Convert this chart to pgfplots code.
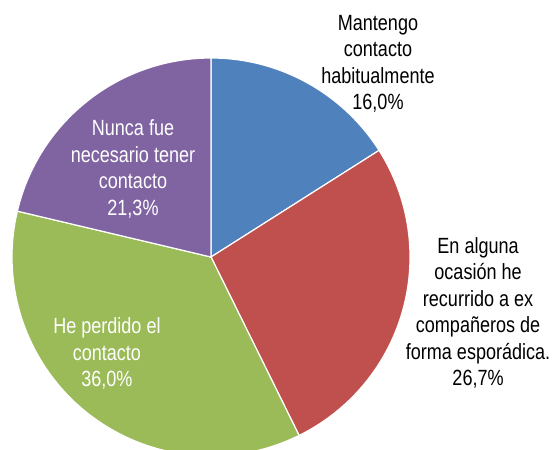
\documentclass[border=0pt]{standalone}
\usepackage{pgfplots}
\pgfplotsset{compat=1.18}
\usepackage{pgfplotstable}
\usepackage{fontspec}
\setmainfont{Liberation Sans}[FakeStretch=0.82]
\definecolor{cblue}{HTML}{4F81BD}
\definecolor{cred}{HTML}{C0504D}
\definecolor{cgreen}{HTML}{9BBB59}
\definecolor{cpurple}{HTML}{8064A2}
\tikzset{lbl/.style={font=\fontsize{22bp}{26.5bp}\selectfont, align=center, inner sep=0pt}}
\begin{document}
\begin{tikzpicture}
\begin{axis}[
  x=199bp, y=199bp,
  xmin=-1.0603, xmax=1.7286, ymin=-0.9648, ymax=1.2915,
  hide axis, clip=true,
]
% values (percent): 16.0, 26.7, 36.0, 21.3 -- clockwise from top
\filldraw[fill=cblue, draw=white, line width=1.2bp]
  (axis cs:0,0) -- (axis cs:{cos(90)},{sin(90)}) arc[start angle=90, delta angle={-16.0*3.6}, radius=199bp] -- cycle;
\filldraw[fill=cred, draw=white, line width=1.2bp]
  (axis cs:0,0) -- (axis cs:{cos(90-16.0*3.6)},{sin(90-16.0*3.6)}) arc[start angle={90-16.0*3.6}, delta angle={-26.7*3.6}, radius=199bp] -- cycle;
\filldraw[fill=cgreen, draw=white, line width=1.2bp]
  (axis cs:0,0) -- (axis cs:{cos(90-42.7*3.6)},{sin(90-42.7*3.6)}) arc[start angle={90-42.7*3.6}, delta angle={-36.0*3.6}, radius=199bp] -- cycle;
\filldraw[fill=cpurple, draw=white, line width=1.2bp]
  (axis cs:0,0) -- (axis cs:{cos(90-78.7*3.6)},{sin(90-78.7*3.6)}) arc[start angle={90-78.7*3.6}, delta angle={-21.3*3.6}, radius=199bp] -- cycle;
\node[lbl, text=black] at (axis cs:0.839,0.970) {Mantengo\\contacto\\habitualmente\\16,0\%};
\node[lbl, text=black] at (axis cs:1.342,-0.281) {En alguna\\ocasión he\\recurrido a ex\\compañeros de\\forma esporádica.\\26,7\%};
\node[lbl, text=white] at (axis cs:-0.523,-0.487) {He perdido el\\contacto\\36,0\%};
\node[lbl, text=white] at (axis cs:-0.392,0.442) {Nunca fue\\necesario tener\\contacto\\21,3\%};
\coordinate (ll) at (axis cs:-1.0603,-0.9648);
\coordinate (ur) at (axis cs:1.7286,1.2915);
\end{axis}
\pgfresetboundingbox
\path[use as bounding box] (ll) rectangle (ur);
\end{tikzpicture}
\end{document}
